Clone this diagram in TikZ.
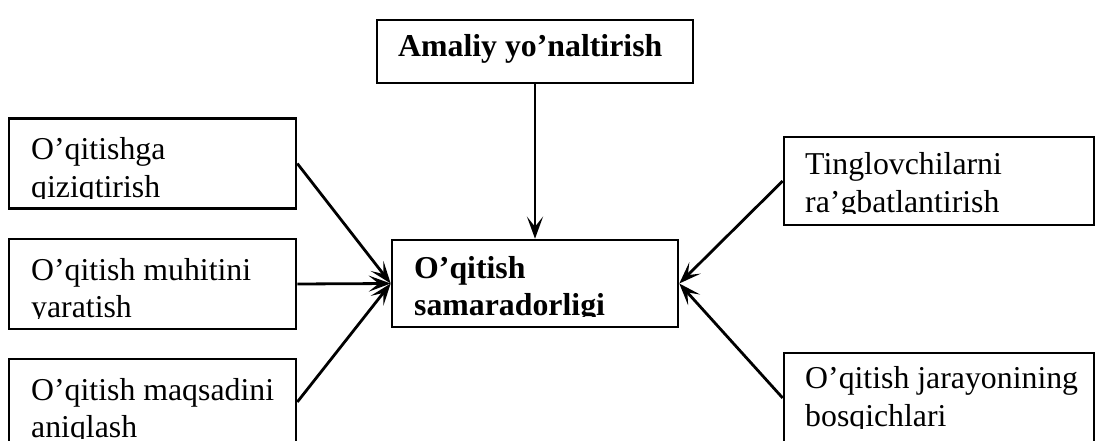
\documentclass[tikz,border=0pt]{standalone}
\usepackage{fontspec}
\setmainfont{Liberation Serif}
\usetikzlibrary{arrows.meta}
\begin{document}
\begin{tikzpicture}[x=1pt,y=-1pt,
  box/.style={draw, line width=2.6pt, inner sep=0pt, fill=none},
  txt/.style={inner sep=0pt, anchor=base west, font=\fontsize{31.8}{37}\selectfont},
  btxt/.style={txt, font=\fontsize{31.8}{37}\selectfont\bfseries},
  arr/.style={line width=2.8pt, -{Stealth[length=22pt,width=16pt,inset=10pt]}}]
\useasboundingbox (0,0) rectangle (1096,441);
% boxes
\node[box, minimum width=316pt, minimum height=63pt] (a) at (535,51.5) {};
\node[box, minimum width=287pt, minimum height=90pt] (l1) at (152.5,163.5) {};
\node[box, minimum width=287pt, minimum height=90pt] (l2) at (152.5,284) {};
\node[box, minimum width=287pt, minimum height=86pt] (l3) at (152.5,402) {};
\node[box, minimum width=286pt, minimum height=87pt] (c) at (535,283.5) {};
\node[box, minimum width=310pt, minimum height=88pt] (r1) at (939,181) {};
\node[box, minimum width=310pt, minimum height=90pt] (r2) at (939,398) {};
% texts
\node[btxt] (ta) at (398,57) {Amaliy yo’naltirish};
\begin{scope}
  \clip (10,119) rectangle (295,198.5);
  \node[txt] (t11) at (31,160) {O’qitishga};
  \node[txt] (t12) at (31,197) {qiziqtirish};
\end{scope}
\begin{scope}
  \clip (10,240) rectangle (295,318.5);
  \node[txt] (t21) at (31,280) {O’qitish muhitini};
  \node[txt] (t22) at (31,317) {yaratish};
\end{scope}
\begin{scope}
  \clip (10,360) rectangle (295,438.5);
  \node[txt] (t31) at (31,400) {O’qitish maqsadini};
  \node[txt] (t32) at (31,437) {aniqlash};
\end{scope}
\begin{scope}
  \clip (393,241) rectangle (677,316.5);
  \node[btxt] (tc1) at (414,278) {O’qitish};
  \node[btxt] (tc2) at (414,315) {samaradorligi};
\end{scope}
\begin{scope}
  \clip (785,138) rectangle (1093,213.5);
  \node[txt] (tr11) at (805,175) {Tinglovchilarni};
  \node[txt] (tr12) at (805,212) {ra’gbatlantirish};
\end{scope}
\begin{scope}
  \clip (785,354) rectangle (1093,428);
  \node[txt] (tr21) at (805,388) {O’qitish jarayonining};
  \node[txt] (tr22) at (805,426.5) {bosqichlari};
\end{scope}
% connectors
\draw[arr] (a.south) -- (c.north);
\draw[arr] (l1.east) -- (c.west);
\draw[arr] (l2.east) -- (c.west);
\draw[arr] (l3.east) -- (c.west);
\draw[arr] (r1.west) -- (c.east);
\draw[arr] (r2.west) -- (c.east);
\end{tikzpicture}
\end{document}
